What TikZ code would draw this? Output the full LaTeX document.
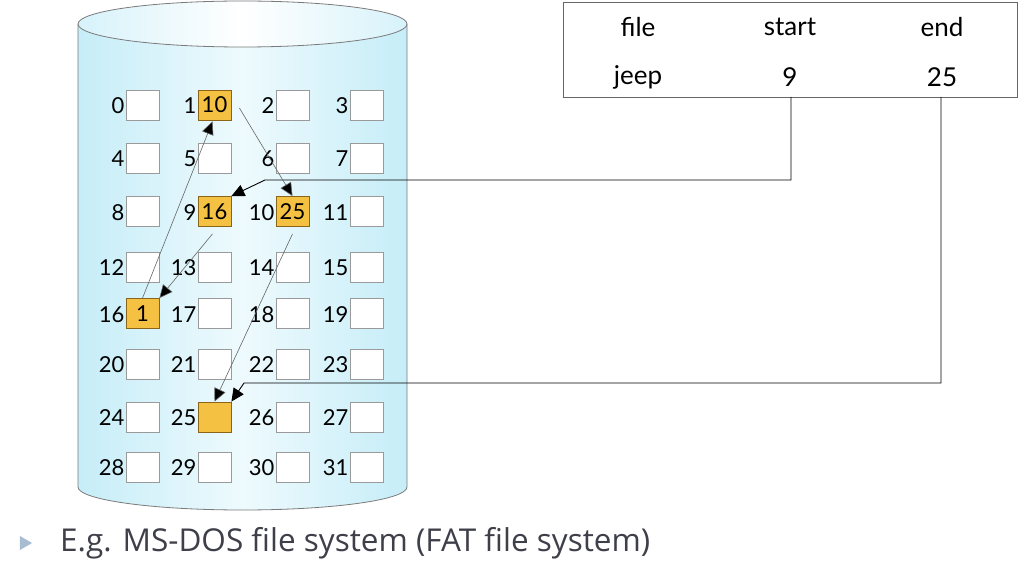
\documentclass[tikz,border=0pt]{standalone}
\usepackage{fontspec}
\setmainfont{Lato}
\newfontfamily\bulletfont{Open Sans}
\usetikzlibrary{arrows.meta,calc,shapes.geometric}
\definecolor{cylside}{HTML}{C6EDF8}
\definecolor{cylmid}{HTML}{EEFAFD}
\definecolor{cyledge}{HTML}{7A7A7A}
\definecolor{fatfill}{HTML}{F5C142}
\definecolor{fatdraw}{HTML}{8A6418}
\definecolor{boxdraw}{HTML}{9A9A9A}
\definecolor{bodytext}{HTML}{3F3F4A}
\definecolor{bulletcol}{HTML}{A9BDD2}
\tikzset{
  blk/.style={draw=boxdraw,fill=white,line width=0.8pt,minimum width=33pt,minimum height=30pt,inner sep=0pt,font=\fontsize{22}{22}\selectfont},
  used/.style={blk,draw=fatdraw,fill=fatfill},
  lbl/.style={anchor=east,inner sep=0pt,font=\fontsize{22}{22}\selectfont},
  tabtxt/.style={inner sep=0pt,font=\fontsize{26}{26}\selectfont},
  chain/.style={draw=black!60,line width=0.6pt,-{Triangle[length=13pt,width=12pt,fill=black]}},
  link/.style={draw=black,line width=0.9pt,-{Triangle[length=13pt,width=12pt,fill=black]}},
}
\begin{document}
\begin{tikzpicture}[x=1pt,y=-1pt]
\useasboundingbox (0,0) rectangle (1026,564);
% cylinder body
\path[left color=cylside,right color=cylside,middle color=cylmid]
  (78,24) -- (78,487) arc[start angle=180,end angle=0,x radius=164.5,y radius=23] -- (407,24) -- cycle;
\draw[cyledge,line width=0.8pt] (78,24) -- (78,487) arc[start angle=180,end angle=0,x radius=164.5,y radius=23] -- (407,24);
\path[left color=cylside!70,right color=cylside!70,middle color=white]
  (242.5,24) ellipse[x radius=164.5,y radius=23];
\draw[cyledge,line width=0.8pt] (242.5,24) ellipse[x radius=164.5,y radius=23];
% blocks
\foreach \r/\y in {0/105,1/158,2/211.5,3/267,4/313.5,5/364,6/417,7/467}{
  \foreach \c/\x in {0/142.5,1/214.5,2/292.5,3/366.5}{
    \pgfmathtruncatemacro{\n}{4*\r+\c}
    \node[blk] (b\n) at (\x,\y) {};
    \node[lbl] (l\n) at ($(b\n.west)+(-1,1)$) {\n};
  }
}
\node[used] (u1) at (b1) {10};
\node[used] (u9) at (b9) {16};
\node[used] (u10) at (b10) {25};
\node[used] (u16) at (b16) {1};
\node[used] (u25) at (b25) {};
% directory table
\node[draw=black!60,line width=0.9pt,minimum width=454pt,minimum height=95pt,inner sep=0pt] (tab) at (790,49.5) {};
\node[tabtxt] (hfile) at (638,27) {file};
\node[tabtxt] (hstart) at (790,27) {start};
\node[tabtxt] (hend) at (942,27) {end};
\node[tabtxt] (tjeep) at (638,77) {jeep};
\node[tabtxt] (t9) at (790,77) {9};
\node[tabtxt] (t25) at (942,77) {25};
\coordinate (s9) at (791,97);
\coordinate (k9a) at (791,180);
\coordinate (k9b) at (265,180);
\coordinate (s25) at (941,97);
\coordinate (k25a) at (941,383);
\coordinate (k25b) at (244,383);
\draw[link] (s9) -- (k9a) -- (k9b) -- (u9.north east);
\draw[link] (s25) -- (k25a) -- (k25b) -- (u25.north east);
% FAT chain
\draw[chain] ($(u1.east)+(8,3)$) -- (u10.north);
\draw[chain] ($(u10.south)+(0,7)$) -- (u25.north);
\draw[chain] ($(u9.south)+(-2,7)$) -- (u16.north east);
\draw[chain] (u16.north) -- ($(u1.south)+(-2,1)$);
% bullet text
\node[fill=bulletcol,isosceles triangle,inner sep=0pt,minimum width=14pt,minimum height=8pt,isosceles triangle apex angle=60] (bul) at (24,543) {};
\node[anchor=west,inner sep=0pt,text=bodytext,font=\bulletfont\fontsize{31.5}{31.5}\selectfont] (cap) at (60,543) {E.g. MS-DOS file system (FAT file system)};
\end{tikzpicture}
\end{document}
